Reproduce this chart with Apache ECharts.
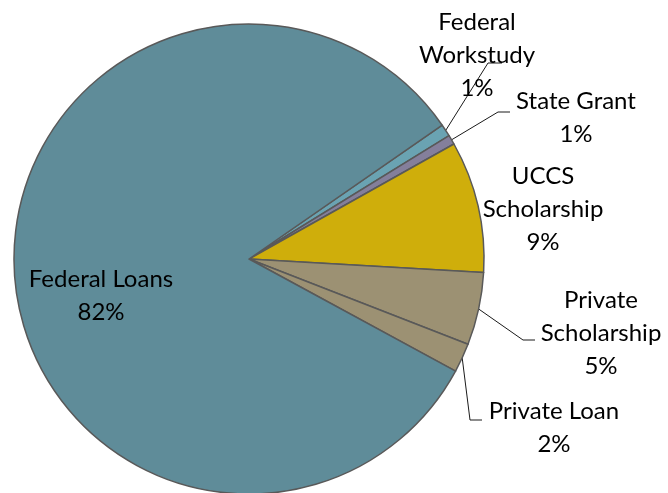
<!DOCTYPE html>
<html>
<head>
<meta charset="utf-8">
<script src="https://cdn.jsdelivr.net/npm/echarts@6/dist/echarts.min.js"></script>
<style>
  html, body { margin: 0; padding: 0; background: #fff; }
  #chart { width: 668px; height: 493px; }
</style>
</head>
<body>
<div id="chart"></div>
<script>
// slices, clockwise from the Federal Workstudy sliver
const categories = ['Federal Workstudy', 'State Grant', 'UCCS Scholarship', 'Private Scholarship', 'Private Loan', 'Federal Loans']
const shares = [0.85, 0.65, 9.05, 5.0, 2.0, 82.45]
const labelNames = ['Federal\nWorkstudy', 'State Grant', 'UCCS\nScholarship', 'Private\nScholarship', 'Private Loan', 'Federal Loans']
const colors = ['#6aa3b2', '#847f9b', '#cfae0b', '#9c9173', '#9c9173', '#5f8c99']

// label block centre and leader-line elbow for each slice (null = no leader)
const labelSpots = [
    { x: 477, y: 55, elbow: [488, 63], end: [502, 63] },
    { x: 576, y: 118, elbow: [498, 112], end: [510, 112] },
    { x: 543, y: 209, elbow: null },
    { x: 601, y: 333, elbow: [523, 340], end: [535, 340] },
    { x: 554, y: 428, elbow: [470, 420], end: [482, 420] },
    { x: 101, y: 296, elbow: null }
]

const chart = echarts.init(document.getElementById('chart'))

chart.setOption({
    animation: false,
    series: [
        {
            type: 'pie',
            center: [249, 259],
            radius: 235,
            startAngle: 34.7,
            clockwise: true,
            percentPrecision: 0,
            avoidLabelOverlap: false,
            itemStyle: {
                borderColor: '#595959',
                borderWidth: 1.5
            },
            label: {
                show: true,
                position: 'outside',
                formatter: p => labelNames[p.dataIndex] + '\n' + p.percent + '%',
                fontFamily: 'Lato',
                fontSize: 24,
                lineHeight: 33,
                color: '#000',
                align: 'center'
            },
            labelLine: {
                show: true,
                lineStyle: { color: '#1a1a1a', width: 1 }
            },
            labelLayout: function (params) {
                const spot = labelSpots[params.dataIndex]
                const out = {
                    x: spot.x,
                    y: spot.y,
                    align: 'center',
                    verticalAlign: 'middle'
                }
                if (spot.elbow && params.labelLinePoints) {
                    out.labelLinePoints = [params.labelLinePoints[0], spot.elbow, spot.end]
                }
                return out
            },
            data: categories.map((name, i) => ({
                name: name,
                value: shares[i],
                itemStyle: { color: colors[i] },
                label: labelSpots[i].elbow === null && i === categories.length - 1 ? { position: 'inside' } : {},
                labelLine: { show: labelSpots[i].elbow !== null }
            }))
        }
    ]
})
</script>
</body>
</html>
